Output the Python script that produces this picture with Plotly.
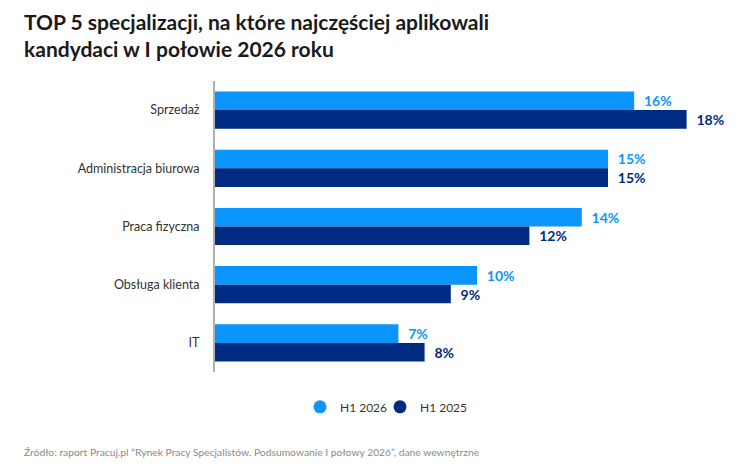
import plotly.graph_objects as go

categories = ["Sprzedaż", "Administracja biurowa", "Praca fizyczna", "Obsługa klienta", "IT"]
h1_2026 = [16, 15, 14, 10, 7]
h1_2025 = [18, 15, 12, 9, 8]
series_names = ["H1 2026", "H1 2025"]

c_light = "#0A95FF"
c_dark = "#002B82"
font_family = "Lato, Open Sans, sans-serif"

fig = go.Figure()
for name, vals, col in [(series_names[0], h1_2026, c_light), (series_names[1], h1_2025, c_dark)]:
    fig.add_trace(go.Bar(
        y=categories, x=vals, orientation="h", name=name,
        marker=dict(color=col, line=dict(width=0)),
        text=[f"  {v}%" for v in vals], textposition="outside",
        textfont=dict(color=col, size=14, family=font_family, weight="bold"),
        cliponaxis=False, showlegend=False,
    ))
# legend with circular markers
for name, col in [(series_names[0], c_light), (series_names[1], c_dark)]:
    fig.add_trace(go.Scatter(
        x=[None], y=[None], mode="markers", name=name,
        marker=dict(color=col, size=13, symbol="circle"),
    ))
# invisible spacer entry so the last legend label is not clipped
fig.add_trace(go.Scatter(
    x=[None], y=[None], mode="markers", name=" ",
    marker=dict(color="rgba(0,0,0,0)", size=1),
))

fig.update_layout(
    width=750, height=472,
    paper_bgcolor="white", plot_bgcolor="white",
    margin=dict(l=215, r=11, t=81, b=100),
    barmode="group", bargap=0.36, bargroupgap=0,
    font=dict(family=font_family, color="#333333"),
    xaxis=dict(range=[0, 20], visible=False, showgrid=False, zeroline=False),
    yaxis=dict(autorange="reversed", showgrid=False, zeroline=False,
               showline=True, linecolor="#b0b0b0", linewidth=2,
               ticks="", ticklabelstandoff=11,
               tickfont=dict(size=12.5, color="#333333", family=font_family)),
    legend=dict(orientation="h", x=(300 - 215) / 524, xanchor="left", y=-0.07, yanchor="top",
                font=dict(size=12, color="#333333", family=font_family),
                entrywidth=35, entrywidthmode="pixels", tracegroupgap=0),
)

fig.add_annotation(
    text="TOP 5 specjalizacji, na które najczęściej aplikowali<br>kandydaci w I połowie 2026 roku",
    xref="paper", yref="paper", x=-193 / 524, y=1 + 74 / 291, xanchor="left", yanchor="top",
    align="left", showarrow=False,
    font=dict(size=21, color="#1a1a1a", family=font_family, weight="bold"),
)

fig.add_annotation(
    text="Źródło: raport Pracuj.pl “Rynek Pracy Specjalistów. Podsumowanie I połowy 2026”, dane wewnętrzne",
    xref="paper", yref="paper", x=-193 / 524, y=-(452 - 372) / 291, xanchor="left", yanchor="middle",
    showarrow=False, font=dict(size=10.3, color="#8a8a8a", family=font_family),
)

fig.write_html("out.html")
